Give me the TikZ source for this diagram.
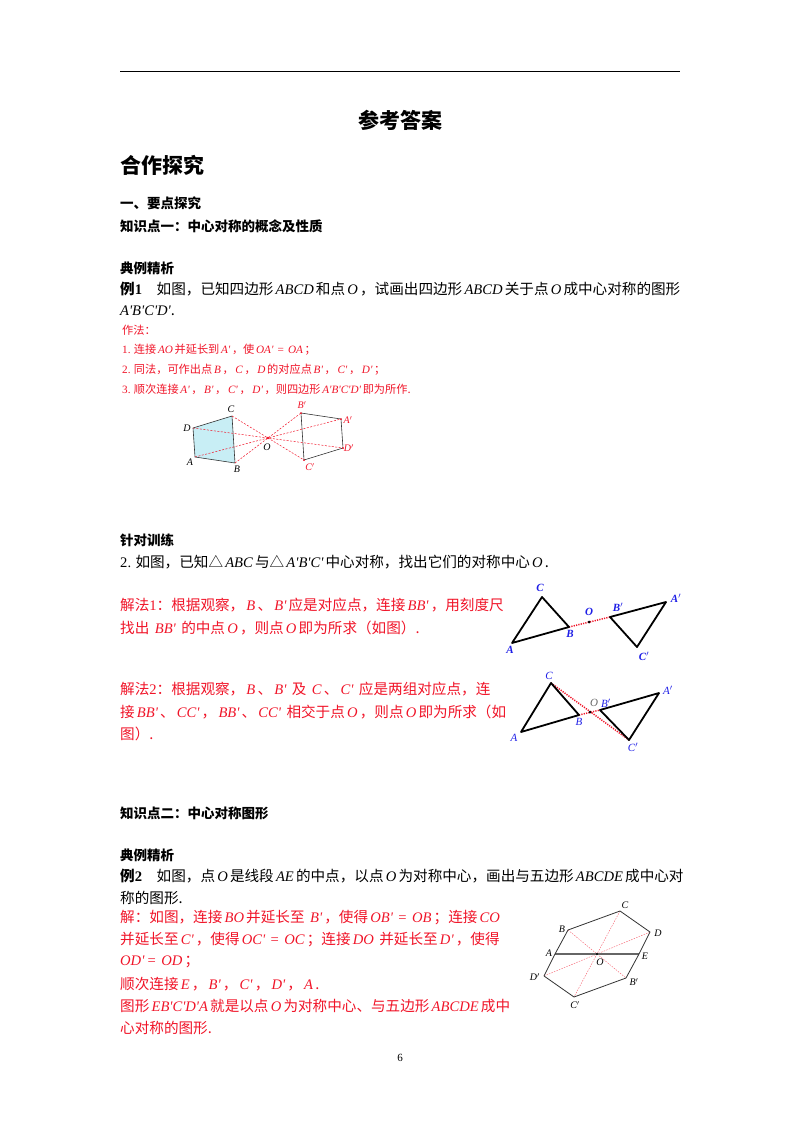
\documentclass[tikz,border=0pt]{standalone}
\usepackage{fontspec}
\setmainfont{Noto Sans CJK SC}
\newfontfamily\lat{Liberation Serif}
\newcommand\m[1]{\hspace{0.15em}{\lat\itshape #1}\hspace{0.15em}}
\newcommand\n[1]{{\lat #1}}
\definecolor{myred}{RGB}{240,20,40}
\definecolor{myblue}{RGB}{30,30,230}
\definecolor{mycyan}{RGB}{200,238,245}
\tikzset{
 txt/.style={anchor=west,inner sep=0pt,font=\fontsize{14.6}{15}\selectfont},
 rtxt/.style={txt,text=myred},
 stxt/.style={anchor=west,inner sep=0pt,text=myred,font=\fontsize{11.2}{12}\selectfont},
 head/.style={anchor=west,inner sep=0pt,font=\fontsize{13.5}{14}\selectfont\bfseries},
 big/.style={inner sep=0pt,font=\fontsize{21}{22}\selectfont\bfseries},
 lab/.style={inner sep=0pt,font=\fontsize{10}{10}\selectfont\lat\itshape},
 blab/.style={inner sep=0pt,text=myblue,font=\fontsize{11}{11}\selectfont\lat\bfseries\itshape},
 clab/.style={inner sep=0pt,text=myblue,font=\fontsize{11}{11}\selectfont\lat\itshape},
 poly/.style={draw=black!80,line width=0.6pt},
 tri/.style={draw=black,line width=1.8pt,line join=round},
 rdash/.style={draw=myred,line width=0.5pt,dash pattern=on 2pt off 1.5pt},
 rdot/.style={draw=myred,line width=1.5pt,dash pattern=on 1.2pt off 1.2pt},
 dotpt/.style={circle,fill=black,inner sep=0pt,minimum size=3pt},
}
\begin{document}
\begin{tikzpicture}[x=1pt,y=-1pt]
\useasboundingbox (0,0) rectangle (800,1132);
\coordinate (r1) at (120,72); \coordinate (r2) at (680,72);
\draw[line width=1pt] (r1) -- (r2);
\node[big] (t1) at (400,120) {参考答案};
\node[big,anchor=west] (t2) at (120,165) {合作探究};
\node[head] (h1) at (120,203) {一、要点探究};
\node[head] (h2) at (120,226) {知识点一：中心对称的概念及性质};
\node[head] (h3) at (120,268) {典例精析};
\node[txt] (l1) at (120,289) {\textbf{例\n{\textbf{1}}}\quad 如图，已知四边形\m{ABCD}和点\m{O}，试画出四边形\m{ABCD}关于点\m{O}成中心对称的图形};
\node[txt] (l2) at (120,311) {{\lat\itshape A'B'C'D'}.};
\node[stxt] (z0) at (122,330) {作法：};
\node[stxt] (z1) at (122,350) {\n{1.} 连接\m{AO}并延长到\m{A'}，使\m{OA'} \n{=} \m{OA}；};
\node[stxt] (z2) at (122,370) {\n{2.} 同法，可作出点\m{B}，\m{C}，\m{D}的对应点\m{B'}，\m{C'}，\m{D'}；};
\node[stxt] (z3) at (122,389) {\n{3.} 顺次连接\m{A'}，\m{B'}，\m{C'}，\m{D'}，则四边形\m{A'B'C'D'}即为所作.};
% figure 1
\coordinate (A) at (195,457); \coordinate (B) at (235,463); \coordinate (C) at (232,416); \coordinate (D) at (193,428);
\coordinate (O) at (268,438);
\coordinate (A1) at (341,419); \coordinate (B1) at (301,413); \coordinate (C1) at (304,460); \coordinate (D1) at (343,448);
\fill[mycyan] (A) -- (B) -- (C) -- (D) -- cycle;
\draw[poly] (A) -- (B) -- (C) -- (D) -- cycle;
\draw[poly] (A1) -- (B1) -- (C1) -- (D1) -- cycle;
\foreach \p/\q in {A/A1,B/B1,C/C1,D/D1} \draw[rdash] (\p) -- (\q);
\fill[myred] (O) circle (1.3pt);
\foreach \p in {A1,B1,C1,D1} \fill[myred] (\p) circle (1pt);
\node[lab] (lA) at (190,462) {A};
\node[lab] (lB) at (237,469) {B};
\node[lab] (lC) at (231,409) {C};
\node[lab] (lD) at (187,428) {D};
\node[lab] (lO) at (267,447) {O};
\node[lab,text=myred] (lB1) at (302,405) {B$'$};
\node[lab,text=myred] (lA1) at (348,420) {A$'$};
\node[lab,text=myred] (lD1) at (349,448) {D$'$};
\node[lab,text=myred] (lC1) at (310,467) {C$'$};
% 针对训练
\node[head] (h4) at (120,540) {针对训练};
\node[txt] (l3) at (120,562) {\n{2.} 如图，已知△\m{ABC}与△\m{A'B'C'}中心对称，找出它们的对称中心\m{O}.};
\node[rtxt] (s1) at (120,605) {解法\n{1}：根据观察，\m{B}、\m{B'}应是对应点，连接\m{BB'}，用刻度尺};
\node[rtxt] (s2) at (120,628) {找出 \m{BB'} 的中点\m{O}，则点\m{O}即为所求（如图）.};
\node[rtxt] (s3) at (120,689) {解法\n{2}：根据观察，\m{B}、\m{B'} 及 \m{C}、\m{C'} 应是两组对应点，连};
\node[rtxt] (s4) at (120,712) {接\m{BB'}、\m{CC'}，\m{BB'}、\m{CC'} 相交于点\m{O}，则点\m{O}即为所求（如};
\node[rtxt] (s5) at (120,734) {图）.};
% figure 2
\coordinate (a) at (512,643); \coordinate (c) at (542,597); \coordinate (b) at (569,627);
\coordinate (o) at (589,622);
\coordinate (b1) at (610,617); \coordinate (a1) at (666,602); \coordinate (c1) at (637,647);
\draw[rdot] (b) -- (b1);
\draw[tri] (a) -- (c) -- (b) -- cycle;
\draw[tri] (a1) -- (c1) -- (b1) -- cycle;
\node[dotpt] (od) at (o) {};
\node[blab] (la) at (510,650) {A};
\node[blab] (lb) at (570,634) {B};
\node[blab] (lc) at (540,588) {C};
\node[blab] (lo) at (589,612) {O};
\node[blab] (lb1) at (618,607) {B$'$};
\node[blab] (la1) at (676,598) {A$'$};
\node[blab] (lc1) at (644,656) {C$'$};
% figure 3
\coordinate (e) at (521,732); \coordinate (g) at (551,683); \coordinate (f) at (579,715);
\coordinate (p) at (590,712);
\coordinate (f1) at (600,710); \coordinate (e1) at (659,693); \coordinate (g1) at (629,740);
\draw[rdot] (g) -- (g1);
\draw[rdot] (f) -- (f1);
\draw[tri] (e) -- (g) -- (f) -- cycle;
\draw[tri] (e1) -- (g1) -- (f1) -- cycle;
\node[dotpt] (pd) at (p) {};
\node[clab] (le) at (514,738) {A};
\node[clab] (lf) at (579,722) {B};
\node[clab] (lg) at (549,676) {C};
\node[clab,text=black!60] (lp) at (594,703) {O};
\node[clab] (lf1) at (606,703) {B$'$};
\node[clab] (le1) at (668,690) {A$'$};
\node[clab] (lg1) at (633,747) {C$'$};
% 知识点二
\node[head] (h5) at (120,813) {知识点二：中心对称图形};
\node[head] (h6) at (120,855) {典例精析};
\node[txt] (l4) at (120,876) {\textbf{例\n{\textbf{2}}}\quad 如图，点\m{O}是线段\m{AE}的中点，以点\m{O}为对称中心，画出与五边形\m{ABCDE}成中心对};
\node[txt] (l5) at (120,898) {称的图形.};
\node[rtxt] (j1) at (120,918) {解：如图，连接\m{BO}并延长至 \m{B'}，使得\m{OB'} \n{=} \m{OB}；连接\m{CO}};
\node[rtxt] (j2) at (120,940) {并延长至\m{C'}，使得\m{OC'} \n{=} \m{OC}；连接\m{DO} 并延长至\m{D'}，使得};
\node[rtxt] (j3) at (120,962) {{\lat\itshape OD'} \n{=} \m{OD}；};
\node[rtxt] (j4) at (120,984) {顺次连接\m{E}，\m{B'}，\m{C'}，\m{D'}，\m{A}.};
\node[rtxt] (j5) at (120,1006) {图形\m{EB'C'D'A}就是以点\m{O}为对称中心、与五边形\m{ABCDE}成中};
\node[rtxt] (j6) at (120,1028) {心对称的图形.};
% figure 4
\coordinate (PA) at (555,954); \coordinate (PB) at (568,930); \coordinate (PC) at (620,911);
\coordinate (PD) at (650,932); \coordinate (PE) at (639,954); \coordinate (PO) at (597,954);
\coordinate (PB1) at (626,978); \coordinate (PC1) at (574,997); \coordinate (PD1) at (544,976);
\foreach \p/\q in {PB/PB1,PC/PC1,PD/PD1} \draw[draw=myred!70,line width=0.4pt,dash pattern=on 1.5pt off 1.2pt] (\p) -- (\q);
\draw[draw=black!60,line width=1.4pt] (PA) -- (PE);
\draw[poly,line width=0.8pt,line join=round] (PA) -- (PB) -- (PC) -- (PD) -- (PE) -- (PB1) -- (PC1) -- (PD1) -- cycle;
\fill (PO) circle (1.2pt);
\node[lab] (qA) at (549,953) {A};
\node[lab] (qB) at (562,929) {B};
\node[lab] (qC) at (625,905) {C};
\node[lab] (qD) at (658,933) {D};
\node[lab] (qE) at (645,956) {E};
\node[lab] (qO) at (600,962) {O};
\node[lab] (qD1) at (535,977) {D$'$};
\node[lab] (qB1) at (634,982) {B$'$};
\node[lab] (qC1) at (575,1005) {C$'$};
\node[inner sep=0pt,font=\fontsize{11}{11}\selectfont\lat] (pg) at (400,1058) {6};
\end{tikzpicture}
\end{document}
